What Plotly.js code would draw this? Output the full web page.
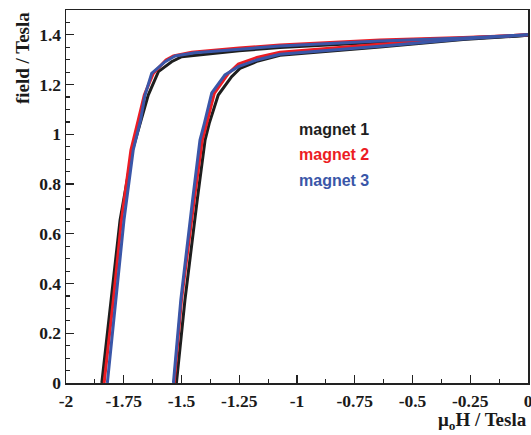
<!DOCTYPE html>
<html>
<head>
<meta charset="utf-8">
<script src="https://cdn.plot.ly/plotly-3.0.1.min.js"></script>
<style>html,body{margin:0;padding:0;background:#fff;}#chart{width:531px;height:435px;}</style>
</head>
<body>
<div id="chart"></div>
<script>
// ---- data ----
const seriesNames = ["magnet 1", "magnet 2", "magnet 3"];
const seriesColors = ["#1e1e1e", "#ec1c24", "#3a56a8"];

// left branch (lower coercivity side)
const m1LeftH = [-1.845, -1.805, -1.766, -1.712, -1.674, -1.644, -1.600, -1.543, -1.499, -1.251, -1.074, -0.641, -0.281, 0];
const m1LeftB = [0, 0.334, 0.655, 0.937, 1.058, 1.158, 1.252, 1.292, 1.312, 1.336, 1.349, 1.370, 1.384, 1.398];
const m2LeftH = [-1.835, -1.795, -1.760, -1.719, -1.687, -1.661, -1.622, -1.567, -1.535, -1.456, -1.251, -1.074, -0.641, -0.281, 0];
const m2LeftB = [0, 0.334, 0.655, 0.937, 1.058, 1.158, 1.245, 1.299, 1.315, 1.330, 1.347, 1.359, 1.379, 1.389, 1.400];
const m3LeftH = [-1.821, -1.785, -1.749, -1.709, -1.677, -1.658, -1.629, -1.571, -1.528, -1.442, -1.251, -1.074, -0.641, -0.281, 0];
const m3LeftB = [0, 0.334, 0.655, 0.937, 1.058, 1.158, 1.245, 1.292, 1.315, 1.328, 1.343, 1.355, 1.375, 1.387, 1.400];

// right branch
const m1RightH = [-1.522, -1.485, -1.432, -1.398, -1.380, -1.341, -1.283, -1.247, -1.169, -1.074, -0.641, -0.281, 0];
const m1RightB = [0, 0.334, 0.736, 0.977, 1.044, 1.158, 1.232, 1.265, 1.295, 1.318, 1.351, 1.381, 1.398];
const m2RightH = [-1.532, -1.500, -1.445, -1.410, -1.391, -1.358, -1.297, -1.254, -1.174, -1.074, -0.641, -0.281, 0];
const m2RightB = [0, 0.334, 0.736, 0.977, 1.044, 1.165, 1.245, 1.283, 1.309, 1.330, 1.362, 1.387, 1.400];
const m3RightH = [-1.535, -1.503, -1.452, -1.420, -1.401, -1.369, -1.312, -1.254, -1.174, -1.074, -0.641, -0.281, 0];
const m3RightB = [0, 0.334, 0.736, 0.977, 1.044, 1.167, 1.239, 1.272, 1.299, 1.322, 1.354, 1.383, 1.400];

const xTickVals = [-2, -1.75, -1.5, -1.25, -1, -0.75, -0.5, -0.25, 0];
const xTickText = ["-2", "-1.75", "-1.5", "-1.25", "-1", "-0.75", "-0.5", "-0.25", "0"];
const yTickVals = [0, 0.2, 0.4, 0.6, 0.8, 1.0, 1.2, 1.4];
const yTickText = ["0", "0.2", "0.4", "0.6", "0.8", "1", "1.2", "1.4"];
const xTitle = "\u03bc<sub>o</sub>H / Tesla";
const yTitle = "field / Tesla";
const legendX = -1.0;
const legendY = [1.02, 0.92, 0.815];

// ---- build traces ----
const branches = [
  [m1LeftH, m1LeftB, m1RightH, m1RightB],
  [m2LeftH, m2LeftB, m2RightH, m2RightB],
  [m3LeftH, m3LeftB, m3RightH, m3RightB]
];
const traces = [];
branches.forEach((b, i) => {
  traces.push({x: b[0], y: b[1], mode: 'lines', name: seriesNames[i], line: {color: seriesColors[i], width: 3}, showlegend: false, hoverinfo: 'skip'});
  traces.push({x: b[2], y: b[3], mode: 'lines', name: seriesNames[i], line: {color: seriesColors[i], width: 3}, showlegend: false, hoverinfo: 'skip'});
});

const tickFont = {family: 'Liberation Serif, Times New Roman, serif', size: 17.5, color: '#1a1a1a', weight: 'bold'};
const titleFont = {family: 'Liberation Serif, Times New Roman, serif', size: 19, color: '#1a1a1a', weight: 'bold'};

const annotations = [
  {text: xTitle, xref: 'paper', yref: 'paper', x: 1.0, y: -0.1367, xanchor: 'right', yanchor: 'bottom', showarrow: false, font: titleFont, borderpad: 0},
  {text: yTitle, xref: 'paper', yref: 'paper', x: -0.095, y: 1.0, xanchor: 'center', yanchor: 'top', textangle: -90, showarrow: false, font: titleFont}
];
seriesNames.forEach((n, i) => {
  annotations.push({text: n, xref: 'x', yref: 'y', x: legendX, y: legendY[i], xanchor: 'left', yanchor: 'middle', showarrow: false,
    font: {family: 'Liberation Sans, Arial, sans-serif', size: 16, color: seriesColors[i], weight: 'bold'}});
});

const layout = {
  width: 531, height: 435,
  margin: {l: 66, r: 3, t: 10, b: 52},
  paper_bgcolor: '#ffffff', plot_bgcolor: '#ffffff',
  showlegend: false,
  xaxis: {
    range: [-2, 0], tickvals: xTickVals, ticktext: xTickText,
    ticks: 'inside', ticklen: 8, tickwidth: 1.2, tickcolor: '#222',
    minor: {dtick: 0.125, ticks: 'inside', ticklen: 4, tickwidth: 1.2, tickcolor: '#222', showgrid: false},
    showgrid: false, zeroline: false, showline: true, linecolor: '#222', linewidth: 1.5, mirror: true,
    tickfont: tickFont, ticklabelstandoff: 1, ticklabeloverflow: 'allow'
  },
  yaxis: {
    range: [0, 1.5], tickvals: yTickVals, ticktext: yTickText,
    ticks: 'inside', ticklen: 8, tickwidth: 1.2, tickcolor: '#222',
    minor: {dtick: 0.05, ticks: 'inside', ticklen: 4, tickwidth: 1.2, tickcolor: '#222', showgrid: false},
    showgrid: false, zeroline: false, showline: true, linecolor: '#222', linewidth: 1.5, mirror: true,
    tickfont: tickFont, ticklabeloverflow: 'allow'
  },
  annotations: annotations
};

Plotly.newPlot('chart', traces, layout, {staticPlot: true, displayModeBar: false});
</script>
</body>
</html>
